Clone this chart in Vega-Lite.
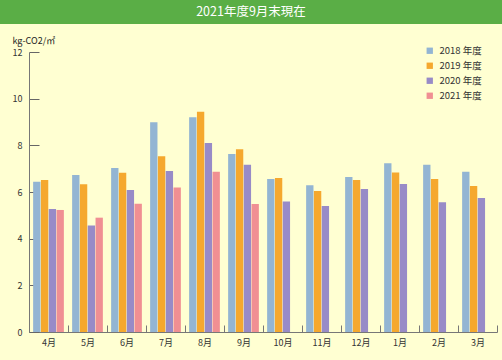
{
  "$schema": "https://vega.github.io/schema/vega-lite/v6.json",
  "background": "#ffffd2",
  "padding": 0,
  "spacing": 0,
  "config": {
    "font": "Noto Sans CJK JP",
    "view": {"stroke": null}
  },
  "vconcat": [
    {
      "width": 502,
      "height": 24,
      "view": {"fill": "#5aae46", "stroke": null},
      "data": {"values": [{"t": "2021年度9月末現在"}]},
      "mark": {"type": "text", "color": "white", "fontSize": 12.5, "font": "Noto Sans CJK JP", "baseline": "middle", "align": "center"},
      "encoding": {"text": {"field": "t"}}
    },
    {
      "width": 502,
      "height": 336,
      "data": {"values": [
        {"month": "4月", "year": "2018年度", "value": 6.44},
        {"month": "4月", "year": "2019年度", "value": 6.51},
        {"month": "4月", "year": "2020年度", "value": 5.27},
        {"month": "4月", "year": "2021年度", "value": 5.23},
        {"month": "5月", "year": "2018年度", "value": 6.73},
        {"month": "5月", "year": "2019年度", "value": 6.33},
        {"month": "5月", "year": "2020年度", "value": 4.56},
        {"month": "5月", "year": "2021年度", "value": 4.90},
        {"month": "6月", "year": "2018年度", "value": 7.03},
        {"month": "6月", "year": "2019年度", "value": 6.83},
        {"month": "6月", "year": "2020年度", "value": 6.09},
        {"month": "6月", "year": "2021年度", "value": 5.50},
        {"month": "7月", "year": "2018年度", "value": 8.99},
        {"month": "7月", "year": "2019年度", "value": 7.53},
        {"month": "7月", "year": "2020年度", "value": 6.90},
        {"month": "7月", "year": "2021年度", "value": 6.19},
        {"month": "8月", "year": "2018年度", "value": 9.20},
        {"month": "8月", "year": "2019年度", "value": 9.44},
        {"month": "8月", "year": "2020年度", "value": 8.10},
        {"month": "8月", "year": "2021年度", "value": 6.87},
        {"month": "9月", "year": "2018年度", "value": 7.63},
        {"month": "9月", "year": "2019年度", "value": 7.83},
        {"month": "9月", "year": "2020年度", "value": 7.17},
        {"month": "9月", "year": "2021年度", "value": 5.49},
        {"month": "10月", "year": "2018年度", "value": 6.56},
        {"month": "10月", "year": "2019年度", "value": 6.60},
        {"month": "10月", "year": "2020年度", "value": 5.59},
        {"month": "11月", "year": "2018年度", "value": 6.29},
        {"month": "11月", "year": "2019年度", "value": 6.04},
        {"month": "11月", "year": "2020年度", "value": 5.40},
        {"month": "12月", "year": "2018年度", "value": 6.64},
        {"month": "12月", "year": "2019年度", "value": 6.51},
        {"month": "12月", "year": "2020年度", "value": 6.13},
        {"month": "1月", "year": "2018年度", "value": 7.23},
        {"month": "1月", "year": "2019年度", "value": 6.84},
        {"month": "1月", "year": "2020年度", "value": 6.34},
        {"month": "2月", "year": "2018年度", "value": 7.17},
        {"month": "2月", "year": "2019年度", "value": 6.56},
        {"month": "2月", "year": "2020年度", "value": 5.56},
        {"month": "3月", "year": "2018年度", "value": 6.87},
        {"month": "3月", "year": "2019年度", "value": 6.26},
        {"month": "3月", "year": "2020年度", "value": 5.74}
      ]},
      "mark": {"type": "bar"},
      "encoding": {
        "x": {
          "field": "month", "type": "nominal",
          "sort": ["4月","5月","6月","7月","8月","9月","10月","11月","12月","1月","2月","3月"],
          "scale": {"range": [29, 497], "paddingInner": 0, "paddingOuter": 0},
          "axis": {
            "title": null, "labelAngle": 0, "offset": -28,
            "tickBand": "extent", "tickSize": -7, "tickColor": "#777", "domainColor": "#777",
            "labelPadding": 13, "labelFontSize": 9, "labelColor": "#333", "labelFont": "Noto Sans CJK JP"
          }
        },
        "xOffset": {
          "field": "year", "type": "nominal",
          "scale": {"paddingInner": 0.06, "paddingOuter": 0.53}
        },
        "y": {
          "field": "value", "type": "quantitative",
          "scale": {"domain": [0, 12], "range": [308, 28], "nice": false},
          "axis": {
            "title": "kg-CO2/㎡", "titleAngle": 0, "titleAlign": "left", "titleBaseline": "middle",
            "titleX": -17, "titleY": 16, "titleFontSize": 9, "titleFontWeight": "normal", "titleColor": "#222", "titleFont": "Noto Sans CJK JP",
            "offset": -29, "values": [0, 2, 4, 6, 8, 10, 12], "grid": false,
            "tickSize": -10, "tickColor": "#666", "domainColor": "#777",
            "labelPadding": 17, "labelFontSize": 9, "labelColor": "#333", "labelFont": "Noto Sans CJK JP"
          }
        },
        "color": {
          "field": "year", "type": "nominal",
          "scale": {"domain": ["2018年度","2019年度","2020年度","2021年度"], "range": ["#93b5d3","#f5a82e","#988bc7","#f08f93"]},
          "legend": {
            "title": null, "orient": "none", "legendX": 425, "legendY": 46,
            "symbolType": "square", "symbolSize": 40, "symbolStrokeWidth": 0, "symbolOpacity": 1,
            "labelFontSize": 9.5, "labelColor": "#333", "labelFont": "Noto Sans CJK JP",
            "labelExpr": "replace(datum.label, '年', ' 年')",
            "rowPadding": 4, "labelOffset": 5, "padding": 0
          }
        }
      }
    }
  ]
}
